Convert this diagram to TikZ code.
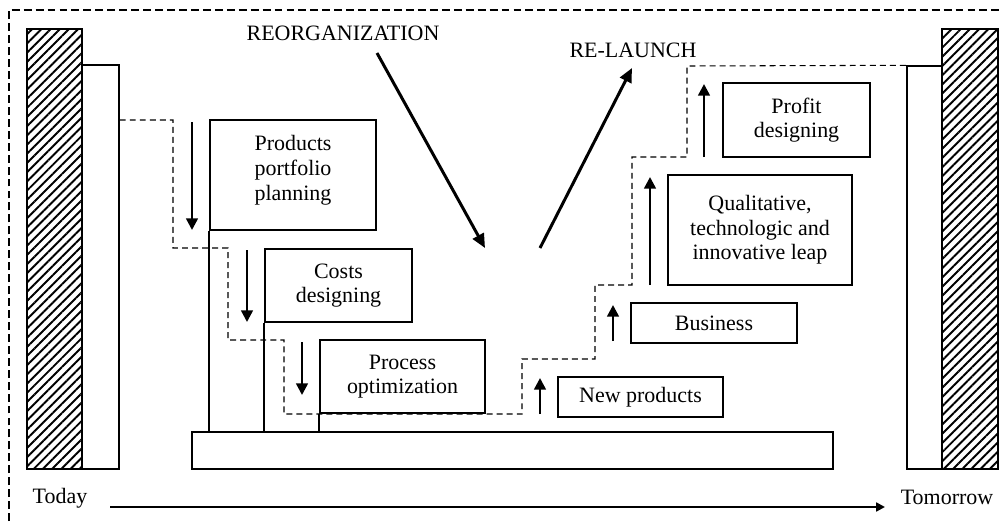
\documentclass[tikz,border=0pt]{standalone}
\usepackage{fontspec}
\setmainfont{Liberation Serif}
\usetikzlibrary{arrows.meta, positioning, calc, patterns.meta}

\begin{document}
\begin{tikzpicture}[x=0.02cm, y=-0.02cm, font=\fontsize{12.5}{14}\selectfont,
  box/.style={draw, line width=0.85pt, inner sep=0pt, align=center},
  wall/.style={draw, line width=0.85pt, inner sep=0pt, fill=white},
  hatchbar/.style={wall, pattern={Lines[angle=45,distance=3.7pt,line width=1.1pt]}},
  stair/.style={dash pattern=on 3.4pt off 2.3pt, line width=0.6pt},
  push/.style={line width=1.4pt, -{Triangle[length=6.6pt,width=6.6pt]}},
  trend/.style={line width=1.7pt, -{Triangle[length=8pt,width=7pt]}},
  timeline/.style={line width=1.6pt, -{Triangle[length=5pt,width=5pt]}}]
  \useasboundingbox (0,0) rectangle (1000,521);

  % frame, open at the bottom and on the right
  \draw[dash pattern=on 4.5pt off 2.3pt, line width=0.6pt] (9,521) -- (9,10) -- (1000,10);

  % today and tomorrow walls
  \node[hatchbar, minimum width=1.10cm, minimum height=8.80cm] (leftbar) at (54.5,249) {};
  \node[wall, minimum width=0.74cm, minimum height=8.08cm] (leftwall) at (100.5,267) {};
  \node[wall, minimum width=0.70cm, minimum height=8.06cm] (rightwall) at (924.5,267.5) {};
  \node[hatchbar, minimum width=1.12cm, minimum height=8.80cm] (rightbar) at (970,249) {};

  % base and steps
  \node[box, minimum width=12.82cm, minimum height=0.74cm] (base) at (512.5,450.5) {};
  \node[box, minimum width=3.32cm, minimum height=2.20cm] (portfolio) at (293,175) {Products\\portfolio\\planning\\[-6pt]};
  \node[box, minimum width=2.94cm, minimum height=1.46cm] (costs) at (338.5,285.5) {Costs\\designing};
  \node[box, minimum width=3.30cm, minimum height=1.46cm] (process) at (402.5,376.5) {Process\\optimization};
  \node[box, minimum width=3.30cm, minimum height=0.80cm] (newprod) at (640.5,397) {New products};
  \node[box, minimum width=3.32cm, minimum height=0.80cm] (business) at (714,323) {Business};
  \node[box, minimum width=3.68cm, minimum height=2.20cm] (leap) at (760,230) {Qualitative,\\technologic and\\innovative leap};
  \node[box, minimum width=2.94cm, minimum height=1.48cm] (profit) at (796.5,120) {Profit\\designing};

  \foreach \b in {portfolio, costs, process}
    \draw[line width=1pt] (\b.south west) -- (\b.south west |- base.north);

  % staircase
  \draw[stair] (leftwall.east |- 0,120) -- (173,120) -- (173,248) -- (228,248) -- (228,340)
    -- (284,340) -- (284,414) -- (522,414) -- (522,359) -- (595,359) -- (595,285)
    -- (632,285) -- (632,157) -- (687,157) -- (687,66) -- (rightwall.north west);

  % down and up arrows
  \draw[push] (192,122) -- (192,230);
  \draw[push] (247,250) -- (247,322);
  \draw[push] (302,342) -- (302,395);
  \draw[push] (540,414) -- (540,378);
  \draw[push] (613,341) -- (613,305);
  \draw[push] (650,285) -- (650,177);
  \draw[push] (704,157) -- (704,84);

  % reorganization and re-launch
  \node (reorg) at (343,33) {REORGANIZATION};
  \node (relaunch) at (633,50) {RE-LAUNCH};
  \coordinate (reorgfrom) at (377,53);
  \coordinate (reorgto) at (485,248);
  \coordinate (relaunchfrom) at (540,248);
  \coordinate (relaunchto) at (632,68);
  \draw[trend] (reorgfrom) -- (reorgto);
  \draw[trend] (relaunchfrom) -- (relaunchto);

  % time axis
  \node (today) at (60,498) {Today};
  \node (tomorrow) at (947,497) {Tomorrow};
  \coordinate (tstart) at (110,507);
  \coordinate (tend) at (885,507);
  \draw[timeline] (tstart) -- (tend);
\end{tikzpicture}
\end{document}
